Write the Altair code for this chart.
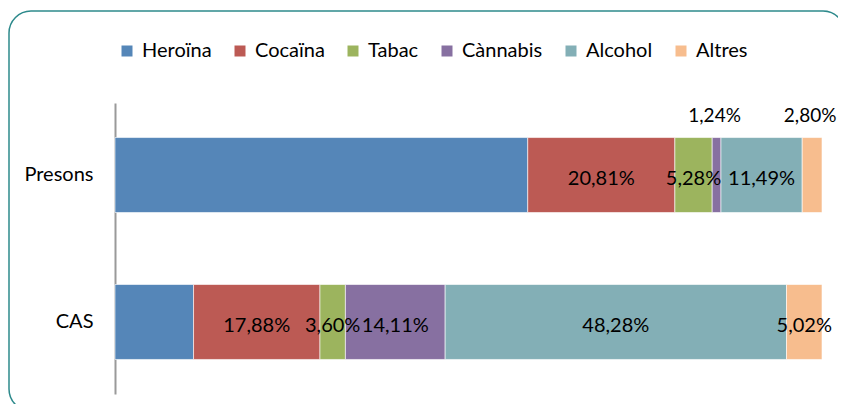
import altair as alt
import pandas as pd

grups = ["Presons", "CAS"]
substancies = ["Heroïna", "Cocaïna", "Tabac", "Cànnabis", "Alcohol", "Altres"]
presons = [58.38, 20.81, 5.28, 1.24, 11.49, 2.80]
cas = [11.11, 17.88, 3.60, 14.11, 48.28, 5.02]
colors = ["#5586B8", "#BC5A54", "#9CB45E", "#8770A1", "#83AFB6", "#F7BD8E"]

rows = []
for g, vals in zip(grups, [presons, cas]):
    for i, (s, v) in enumerate(zip(substancies, vals)):
        rows.append({"grup": g, "substancia": s, "ordre": i, "valor": v,
                     "etiqueta": f"{v:.2f}%".replace(".", ",")})
df = pd.DataFrame(rows)

FONT = "Lato"
FS = 20

base = alt.Chart(df).transform_stack(
    stack="valor", as_=["x0", "x1"], groupby=["grup"],
    sort=[alt.SortField("ordre")]
).transform_calculate(mid="(datum.x0 + datum.x1) / 2")

xscale = alt.Scale(domain=[0, 100], nice=False, zero=True)
yscale = alt.Scale(domain=grups, paddingInner=0.49, paddingOuter=0.235)

bars = base.mark_bar(stroke="#ffffff", strokeWidth=0.6).encode(
    x=alt.X("x0:Q", scale=xscale, axis=None),
    x2="x1:Q",
    y=alt.Y("grup:N", scale=yscale, title=None,
            axis=alt.Axis(ticks=False, domainColor="#9a9a9a", domainWidth=2,
                          labelPadding=22, labelFontSize=FS, labelColor="#000000",
                          labelFont=FONT, grid=False)),
    color=alt.Color("substancia:N",
                    scale=alt.Scale(domain=substancies, range=colors),
                    legend=alt.Legend(title=None, orient="none", direction="horizontal",
                                      legendX=2, legendY=-62, symbolType="square",
                                      symbolSize=121, symbolStrokeWidth=0,
                                      labelFontSize=FS, labelFont=FONT,
                                      labelColor="#000000", labelOffset=5,
                                      columnPadding=18)),
)

inside = base.transform_filter(
    "datum.substancia != 'Heroïna' && !(datum.grup == 'Presons' && datum.valor < 3)"
).mark_text(fontSize=FS, font=FONT, color="#000000", dy=4).encode(
    x=alt.X("mid:Q", scale=xscale),
    y=alt.Y("grup:N", scale=yscale),
    text="etiqueta:N",
)

above = base.transform_filter(
    "datum.grup == 'Presons' && datum.valor < 3"
).mark_text(fontSize=19, font=FONT, color="#000000", dy=-59, dx=-2).encode(
    x=alt.X("mid:Q", scale=xscale),
    y=alt.Y("grup:N", scale=yscale),
    text="etiqueta:N",
)

frame = alt.Chart(pd.DataFrame({"k": [0]})).mark_rect(
    fill="#ffffff", fillOpacity=0, stroke="#2E8A8C", strokeWidth=1.5, cornerRadius=22
).encode(
    x=alt.value(-106), x2=alt.value(730), y=alt.value(-92), y2=alt.value(308)
)

chart = alt.layer(frame, bars, inside, above).properties(
    width=707, height=291,
    autosize=alt.AutoSizeParams(type="none"),
    padding={"left": 107, "top": 95, "right": 16, "bottom": 10},
).configure(background="#ffffff").configure_view(strokeWidth=0, stroke="transparent")

chart.save("out.html", embed_options={"renderer": "svg", "actions": False})
